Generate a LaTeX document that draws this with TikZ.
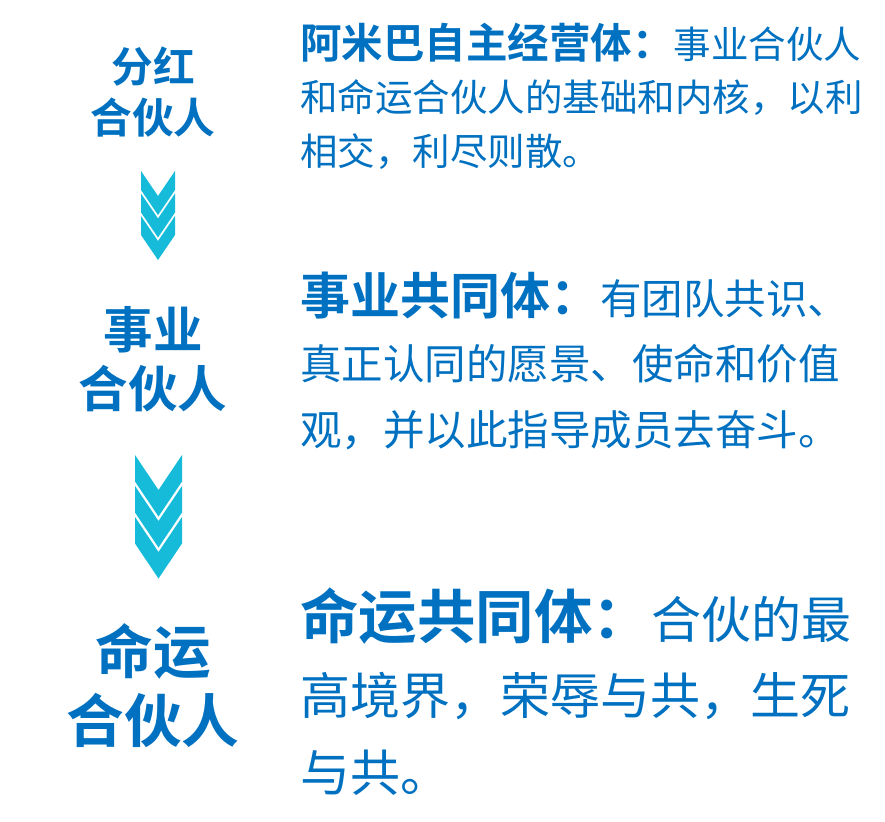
\documentclass[tikz,border=0pt]{standalone}
\usepackage{fontspec}
\usepackage{tikz}
\usetikzlibrary{positioning}
\newfontfamily\cjk{Noto Sans CJK SC}[BoldFont={Noto Sans CJK SC Bold}]
\definecolor{azure}{HTML}{0070C0}
\definecolor{teal}{HTML}{16BBDA}
\tikzset{tag/.style={text=azure,inner sep=0pt,anchor=base},
  txt/.style={text=azure,inner sep=0pt,anchor=base west},
  chev/.style={fill=teal}}
\newcommand{\fs}[1]{\cjk\fontsize{#1}{#1}\selectfont}

\begin{document}
\begin{tikzpicture}[x=1pt,y=1pt]
\useasboundingbox (0,0) rectangle (885,-821);
% left column
\node[tag,font=\fs{41.7}\bfseries] (t1a) at (153,-83) {分红};
\node[tag,font=\fs{41.7}\bfseries] (t1b) at (153,-134) {合伙人};
\node[tag,font=\fs{49.5}\bfseries] (t2a) at (153,-348) {事业};
\node[tag,font=\fs{49.5}\bfseries] (t2b) at (153,-407) {合伙人};
\node[tag,font=\fs{57.7}\bfseries] (t3a) at (153,-673) {命运};
\node[tag,font=\fs{57.7}\bfseries] (t3b) at (153,-742) {合伙人};
% chevrons
\foreach \t in {171,193.5,216}
  \fill[chev] (141,-\t) -- (158,-\t-25) -- (175,-\t) -- (175,-\t-19) -- (158,-\t-44) -- (141,-\t-19) -- cycle;
\foreach \t in {455,486,517}
  \fill[chev] (135,-\t) -- (158.5,-\t-35) -- (182,-\t) -- (182,-\t-26.5) -- (158.5,-\t-61.5) -- (135,-\t-26.5) -- cycle;
% right column
\node[txt,font=\fs{37.5}] (d1a) at (300,-59) {{\fontsize{41.5}{41.5}\selectfont\bfseries 阿米巴自主经营体：}事业合伙人};
\node[txt,font=\fs{37.5}] (d1b) at (300,-112) {和命运合伙人的基础和内核，以利};
\node[txt,font=\fs{37.5}] (d1c) at (300,-165) {相交，利尽则散。};
\node[txt,font=\fs{41.5}] (d2a) at (300,-314) {{\fontsize{50}{50}\selectfont\bfseries 事业共同体：}有团队共识、};
\node[txt,font=\fs{41.5}] (d2b) at (300,-379) {真正认同的愿景、使命和价值};
\node[txt,font=\fs{41.5}] (d2c) at (300,-445) {观，并以此指导成员去奋斗。};
\node[txt,font=\fs{50}] (d3a) at (300,-638) {{\fontsize{58.5}{58.5}\selectfont\bfseries 命运共同体：}合伙的最};
\node[txt,font=\fs{50}] (d3b) at (300,-714) {高境界，荣辱与共，生死};
\node[txt,font=\fs{50}] (d3c) at (300,-791) {与共。};
\end{tikzpicture}
\end{document}
